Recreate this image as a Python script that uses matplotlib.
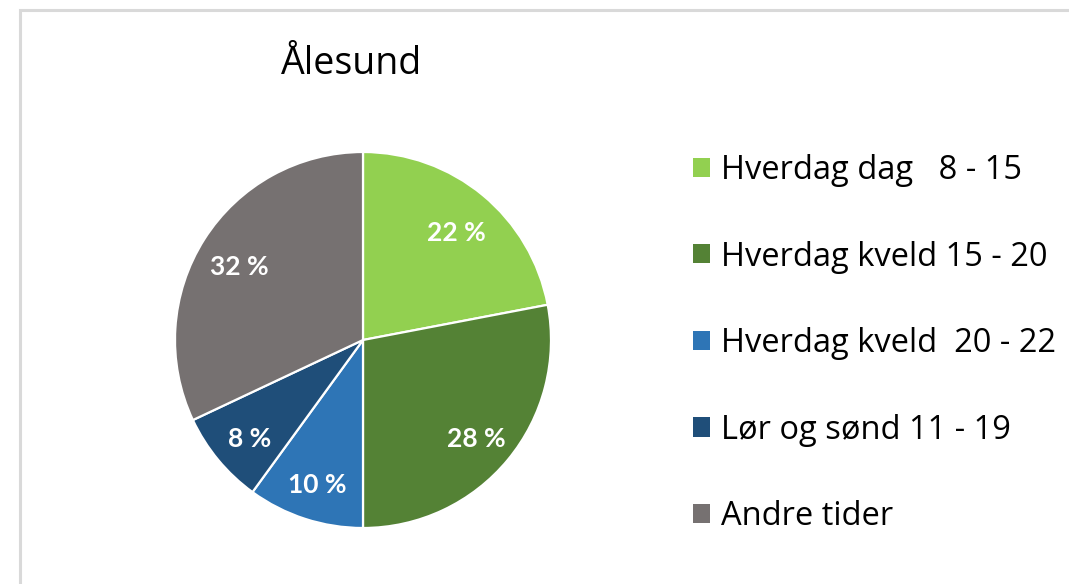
import matplotlib
matplotlib.use("Agg")
import matplotlib.pyplot as plt
from matplotlib.patches import Rectangle, Patch

title = "Ålesund"
categories = ["Hverdag dag   8 - 15", "Hverdag kveld 15 - 20", "Hverdag kveld  20 - 22",
              "Lør og sønd 11 - 19", "Andre tider"]
values = [22, 28, 10, 8, 32]
colors = ["#92D050", "#548235", "#2E75B6", "#1F4E79", "#767171"]

plt.rcParams['font.family'] = ['Open Sans', 'DejaVu Sans']

fig = plt.figure(figsize=(10.69, 5.84), dpi=100)
fig.patch.set_facecolor("white")

# chart border (partially cut off on right/bottom)
fig.patches.append(Rectangle((20/1069, -0.1), 1.2, 1 - 10/584 + 0.1,
                             transform=fig.transFigure, fill=False,
                             edgecolor="#D9D9D9", linewidth=2.2))

ax = fig.add_axes([175/1069, (584-340-188)/584, 376/1069, 376/584])
wedges, texts, autotexts = ax.pie(values, colors=colors, startangle=90, counterclock=False,
                                  autopct=lambda p: f"{p:.0f} %", pctdistance=0.78,
                                  wedgeprops=dict(edgecolor="white", linewidth=1.6),
                                  textprops=dict(color="white", fontsize=19, fontweight="bold",
                                                 family=['Lato', 'DejaVu Sans']))
for t in autotexts:
    x, y = t.get_position()
    t.set_position((x, y - 0.03))
ax.set_aspect("equal")
ax.set_xlim(-1, 1)
ax.set_ylim(-1, 1)

fig.text(352/1069, 1 - 64/584, title, fontsize=27, ha="center", va="center", color="black")

handles = [Patch(facecolor=c, edgecolor="none") for c in colors]
leg = fig.legend(handles, categories, loc="upper left",
                 bbox_to_anchor=(693/1069, 1 - 154/584), frameon=False,
                 fontsize=23.5, handlelength=0.52, handleheight=0.52,
                 handletextpad=0.34, labelspacing=1.64, borderaxespad=0, borderpad=0)
for t in leg.get_texts():
    t.set_color("#000000")

fig.savefig("out.png", dpi=100, facecolor="white")
